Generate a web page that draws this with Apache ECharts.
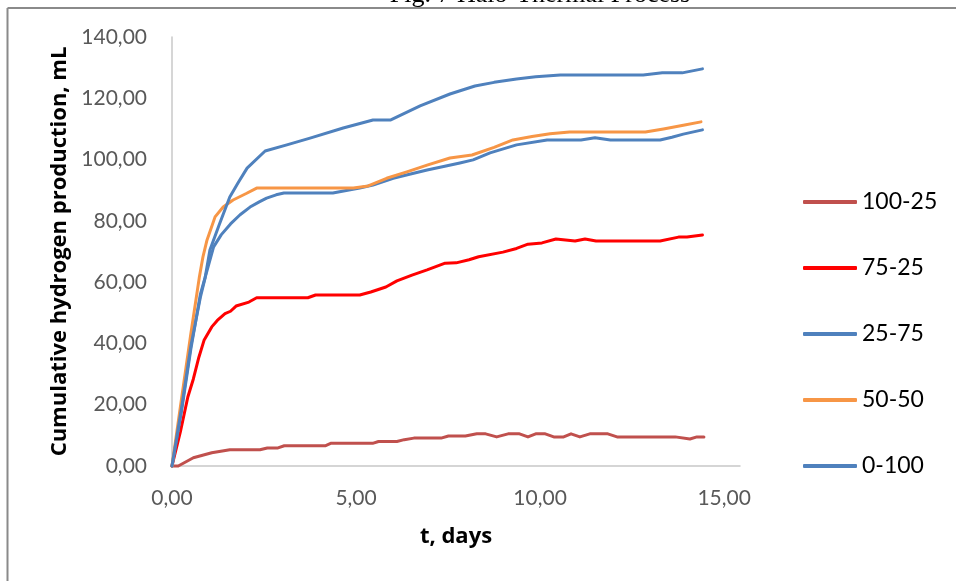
<!DOCTYPE html>
<html>
<head>
<meta charset="utf-8">
<script src="https://cdn.jsdelivr.net/npm/echarts@6/dist/echarts.min.js"></script>
<style>html,body{margin:0;padding:0;background:#fff;}#c{width:956px;height:581px;}</style>
</head>
<body>
<div id="c"></div>
<script>
var seriesNames = ['100-25', '75-25', '25-75', '50-50', '0-100'];
var seriesColors = ['#C0504D', '#FF0000', '#4F81BD', '#F79646', '#4F81BD'];
var xTicks = [0, 5, 10, 15];
var yTicks = [0, 20, 40, 60, 80, 100, 120, 140];

var s100_25 = [[0,0],[0.17,0],[0.58,2.7],[1.08,4.3],[1.57,5.3],[2.39,5.3],[2.59,5.9],[2.88,5.9],[3.05,6.6],[4.16,6.6],[4.31,7.4],[5.45,7.4],[5.61,8],[6.11,8],[6.31,8.6],[6.57,9.1],[7.31,9.1],[7.51,9.8],[7.97,9.8],[8.28,10.5],[8.52,10.5],[8.82,9.5],[9.13,10.5],[9.44,10.5],[9.67,9.5],[9.88,10.5],[10.14,10.5],[10.37,9.5],[10.64,9.5],[10.84,10.5],[11.08,9.5],[11.35,10.5],[11.84,10.5],[12.09,9.5],[13.67,9.5],[14.07,8.8],[14.26,9.5],[14.45,9.5]];
var s75_25 = [[0,0],[0.23,11.3],[0.43,22.5],[0.58,28.4],[0.73,35.5],[0.87,41],[1.08,45.4],[1.23,47.5],[1.44,49.7],[1.59,50.5],[1.74,52.2],[2.09,53.5],[2.3,54.9],[3.69,54.9],[3.9,55.8],[5.1,55.8],[5.4,56.8],[5.81,58.4],[6.11,60.4],[6.52,62.3],[6.93,64],[7.42,66.2],[7.72,66.3],[8.07,67.3],[8.33,68.3],[8.99,69.8],[9.36,71],[9.67,72.4],[10.05,72.8],[10.43,74.1],[10.95,73.4],[11.22,74.1],[11.52,73.4],[13.26,73.4],[13.76,74.7],[13.99,74.7],[14.41,75.4]];
var s25_75 = [[0,0],[0.26,18],[0.51,38],[0.77,56],[0.98,65],[1.13,71.5],[1.34,75.5],[1.59,79],[1.85,82],[2.12,84.5],[2.37,86.2],[2.57,87.4],[2.83,88.5],[3.04,89.1],[4.37,89.1],[5.1,90.7],[5.46,91.7],[6.01,93.9],[6.48,95.3],[6.93,96.6],[7.41,97.8],[7.82,98.9],[8.18,99.9],[8.64,102.2],[9.36,104.8],[10.19,106.4],[10.7,106.4],[11.11,106.4],[11.49,107.1],[11.91,106.4],[13.26,106.4],[13.58,107.3],[13.89,108.3],[14.41,109.7]];
var s50_50 = [[0,0],[0.26,22],[0.51,43],[0.74,61.4],[0.84,68.2],[0.95,73.7],[1.17,81.3],[1.39,84.5],[1.66,86.8],[2.03,89],[2.3,90.7],[4.93,90.7],[5.33,91.4],[5.83,93.9],[6.38,96],[6.93,98.2],[7.55,100.5],[8.15,101.5],[8.75,104],[9.26,106.4],[9.78,107.5],[10.27,108.4],[10.8,109],[12.86,109],[13.35,110],[13.89,111.2],[14.37,112.3]];
var s0_100 = [[0,0],[0.26,19],[0.51,39],[0.77,55],[0.9,61.4],[1.03,70.5],[1.29,79],[1.57,87.8],[1.8,92.5],[2.04,97.2],[2.53,102.8],[3.12,104.8],[3.75,107],[4.65,110.3],[5.46,112.9],[5.93,112.9],[6.74,117.5],[7.55,121.4],[8.23,124],[8.75,125.2],[9.36,126.3],[9.88,127],[10.55,127.6],[11.52,127.6],[12.8,127.6],[13.32,128.3],[13.86,128.3],[14.41,129.6]];

var seriesData = [s100_25, s75_25, s25_75, s50_50, s0_100];

function fmtY(v) { return yTicks.indexOf(v) >= 0 ? v.toFixed(2).replace('.', ',') : ''; }
function fmtX(v) { return xTicks.indexOf(v) >= 0 ? v.toFixed(2).replace('.', ',') : ''; }

var chart = echarts.init(document.getElementById('c'), null, {renderer: 'canvas'});
var FONT = 'Lato';
chart.setOption({
  animation: false,
  backgroundColor: '#fff',
  grid: {left: 172, top: 37, right: 216, bottom: 115, containLabel: false},
  graphic: [
    {type: 'line', shape: {x1: 7.5, y1: 8, x2: 956, y2: 8}, style: {stroke: '#8a8a8a', lineWidth: 2}},
    {type: 'line', shape: {x1: 7.5, y1: 8, x2: 7.5, y2: 581}, style: {stroke: '#8a8a8a', lineWidth: 2}},
    {type: 'text', x: 540, y: 8, style: {text: 'Fig. 7 Halo-Thermal Process', font: '26px "Liberation Serif"', fill: '#000', align: 'center', verticalAlign: 'bottom'}}
  ],
  legend: {
    orient: 'vertical',
    left: 798,
    top: 185,
    itemWidth: 54,
    itemHeight: 4,
    itemGap: 42,
    icon: 'roundRect',
    data: seriesNames,
    textStyle: {fontFamily: FONT, fontSize: 23, color: '#000', lineHeight: 24}
  },
  xAxis: {
    type: 'value', min: 0, max: 15.43, interval: 5,
    name: 't, days', nameLocation: 'middle', nameGap: 60,
    nameTextStyle: {fontFamily: 'Open Sans', fontWeight: 'bold', fontSize: 22, color: '#000'},
    axisLine: {show: true, lineStyle: {color: '#C8C8C8', width: 1.5}},
    axisTick: {show: false},
    splitLine: {show: false},
    axisLabel: {margin: 22, fontFamily: FONT, fontSize: 21, color: '#595959', formatter: fmtX, showMaxLabel: false}
  },
  yAxis: {
    type: 'value', min: 0, max: 140, interval: 20,
    name: 'Cumulative hydrogen production, mL', nameLocation: 'middle', nameGap: 101,
    nameTextStyle: {fontFamily: 'Open Sans', fontWeight: 'bold', fontSize: 22, color: '#000'},
    axisLine: {show: true, lineStyle: {color: '#C8C8C8', width: 1.5}},
    axisTick: {show: false},
    splitLine: {show: false},
    axisLabel: {margin: 25, fontFamily: FONT, fontSize: 21, color: '#595959', formatter: fmtY}
  },
  series: seriesNames.map(function (n, i) {
    return {
      name: n, type: 'line', data: seriesData[i], showSymbol: false, symbol: 'none',
      lineStyle: {color: seriesColors[i], width: 3, cap: 'round', join: 'round'},
      itemStyle: {color: seriesColors[i]},
      clip: false
    };
  })
});
</script>
</body>
</html>
